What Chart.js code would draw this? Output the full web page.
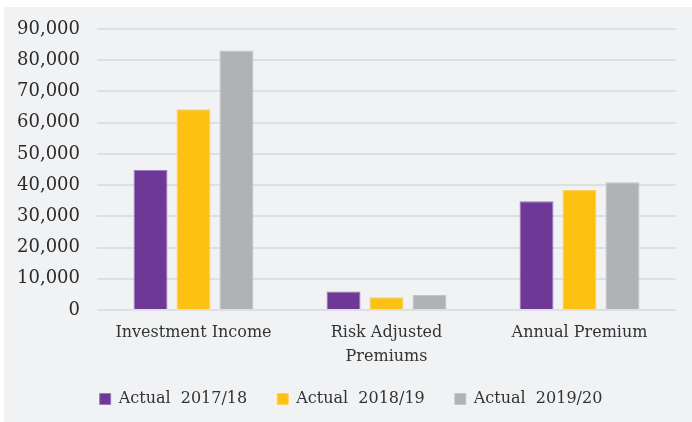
<!DOCTYPE html>
<html>
<head>
<meta charset="utf-8">
<script src="https://cdn.jsdelivr.net/npm/chart.js@4/dist/chart.umd.min.js"></script>
<style>
  html, body { margin: 0; padding: 0; background: #ffffff; }
  #wrap { width: 692px; height: 422px; }
</style>
</head>
<body>
<div id="wrap"><canvas id="chart" width="692" height="422"></canvas></div>
<script>
const categories = ['Investment Income', ['Risk Adjusted', 'Premiums'], 'Annual Premium'];
const actual1718 = [44800, 5900, 34800];
const actual1819 = [64300, 4100, 38400];
const actual1920 = [83100, 4800, 40900];
const seriesNames = ['Actual  2017/18', 'Actual  2018/19', 'Actual  2019/20'];

// white page with the grey panel behind the chart
const panelBg = {
    id: 'panelBg',
    beforeDraw(chart) {
        const ctx = chart.ctx;
        ctx.save();
        ctx.fillStyle = '#ffffff';
        ctx.fillRect(0, 0, chart.width, chart.height);
        ctx.fillStyle = '#f1f2f4';
        ctx.fillRect(4, 7, chart.width - 4, chart.height - 7);
        ctx.restore();
    }
};

// legend is centred on the panel rather than on the canvas
const legendShift = {
    id: 'legendShift',
    afterLayout(chart) {
        chart.legend.left += 13;
        chart.legend.right += 13;
    }
};

const font = { family: '"DejaVu Serif", serif', size: 16 };

new Chart(document.getElementById('chart'), {
    type: 'bar',
    data: {
        labels: categories,
        datasets: [
            { label: seriesNames[0], data: actual1718, backgroundColor: '#6e3996', borderColor: '#9c7bb8', borderWidth: 1 },
            { label: seriesNames[1], data: actual1819, backgroundColor: '#fdc113', borderColor: '#fdd25e', borderWidth: 1 },
            { label: seriesNames[2], data: actual1920, backgroundColor: '#b1b2b5', borderColor: '#c3c4c7', borderWidth: 1 }
        ]
    },
    options: {
        responsive: false,
        animation: false,
        categoryPercentage: 0.668,
        barPercentage: 0.79,
        layout: { padding: { top: 29, right: 16, left: 0, bottom: 5 } },
        scales: {
            x: {
                grid: { display: false, drawTicks: false },
                border: { display: false },
                ticks: {
                    color: '#333333',
                    font: { family: '"DejaVu Serif", serif', size: 16, lineHeight: '24px' },
                    padding: 11,
                    maxRotation: 0
                },
                afterFit(scale) { scale.height = 51; }
            },
            y: {
                min: 0,
                max: 90000,
                ticks: {
                    stepSize: 10000,
                    color: '#2b2b2b',
                    font: { family: '"DejaVu Serif", serif', size: 18 },
                    padding: 17,
                    callback: v => v.toLocaleString('en-US')
                },
                grid: { color: '#dedfe2', lineWidth: 2, drawTicks: false },
                border: { display: false },
                afterFit(scale) { scale.width = 97; }
            }
        },
        plugins: {
            legend: {
                position: 'bottom',
                labels: {
                    color: '#333333',
                    font: font,
                    boxWidth: 11,
                    boxHeight: 11,
                    padding: 30
                }
            },
            tooltip: { enabled: false }
        }
    },
    plugins: [panelBg, legendShift]
});
</script>
</body>
</html>
